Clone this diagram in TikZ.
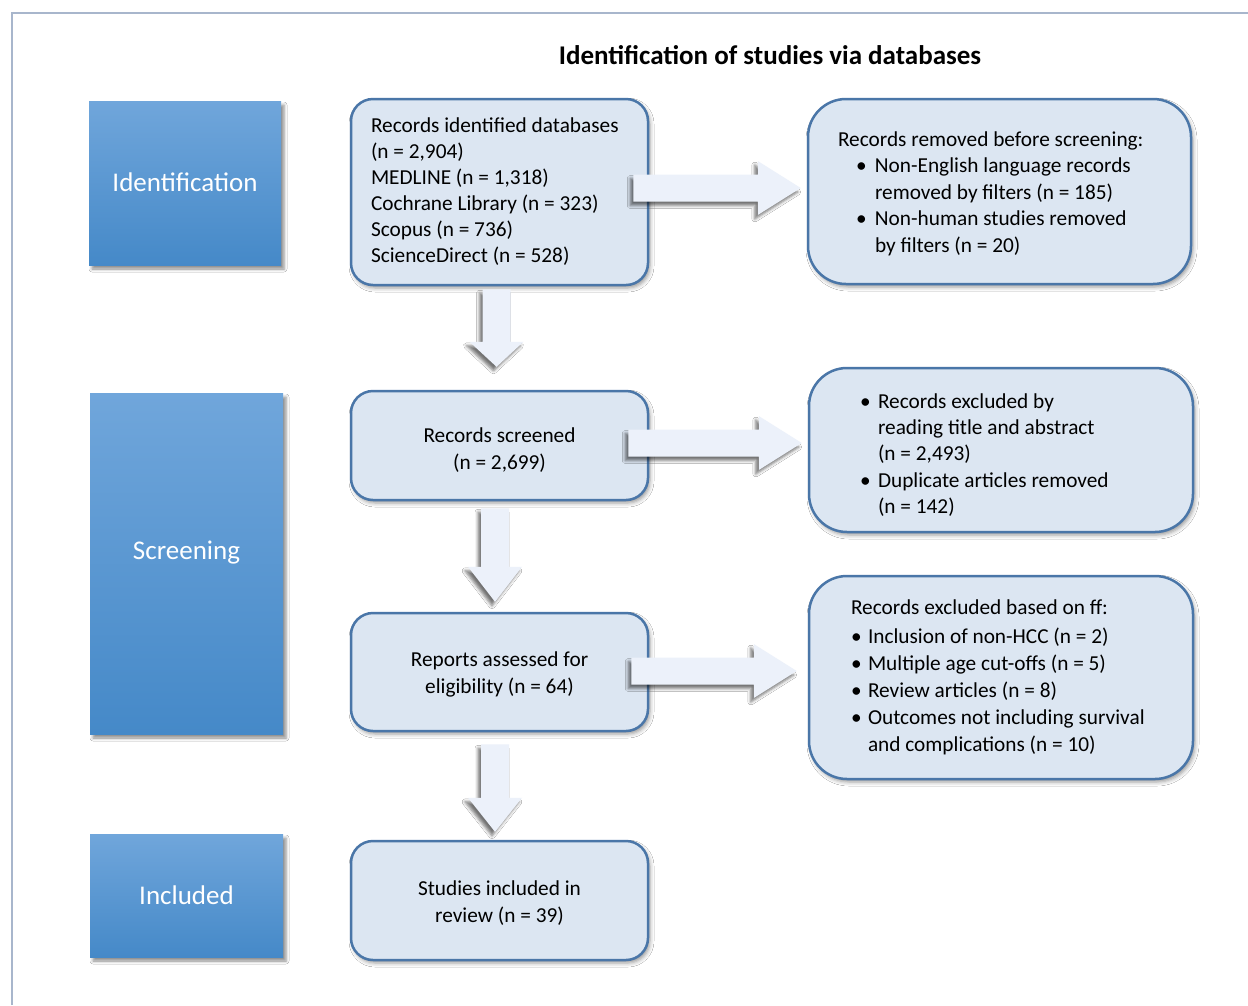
\documentclass[tikz,border=0pt]{standalone}
\usepackage{fontspec}
\setmainfont{Carlito}
\usetikzlibrary{calc,shadows,shadows.blur}
\definecolor{boxfill}{RGB}{220,230,242}
\definecolor{boxline}{RGB}{74,118,168}
\definecolor{arrfill}{RGB}{236,241,250}
\definecolor{stagetop}{RGB}{112,166,219}
\definecolor{stagebot}{RGB}{69,137,200}
\definecolor{framecol}{RGB}{168,182,204}
\newcommand\RArrow[2]{%
  \path[barrow] let \p1=(#1), \p2=(#2) in
    (\x1,\y1+13.5pt) -- (\x2-43pt,\y1+13.5pt) -- (\x2-43pt,\y1+27pt) -- (\x2,\y1)
    -- (\x2-43pt,\y1-27pt) -- (\x2-43pt,\y1-13.5pt) -- (\x1,\y1-13.5pt) -- cycle;}
\newcommand\DArrow[3]{%
  \path[barrow] let \p1=(#1), \p2=(#2) in
    (\x1-14pt,\y1) -- (\x1-14pt,\y2+#3) -- (\x1-27pt,\y2+#3) -- (\x1,\y2)
    -- (\x1+27pt,\y2+#3) -- (\x1+14pt,\y2+#3) -- (\x1+14pt,\y1) -- cycle;}
\newcommand\bul[1]{\makebox[#1][l]{\textbullet}}
\begin{document}
\begin{tikzpicture}[x=1pt,y=-1pt,
  stage/.style={rectangle, top color=stagetop, bottom color=stagebot, inner sep=0pt,
    blur shadow={shadow xshift=3pt, shadow yshift=-4pt, shadow blur radius=3pt, shadow opacity=45}},
  stagetext/.style={text=white, font=\fontsize{27}{32}\selectfont, inner sep=0pt},
  flow/.style={rectangle, rounded corners=22pt, draw=boxline, line width=2.5pt, fill=boxfill,
    inner sep=0pt,
    blur shadow={shadow xshift=2pt, shadow yshift=-3pt, shadow blur radius=4pt, shadow opacity=40}},
  side/.style={flow, rounded corners=38pt},
  boxtext/.style={inner sep=0pt, font=\fontsize{21.3}{26}\selectfont},
  barrow/.style={fill=arrfill,
    blur shadow={shadow xshift=-3pt, shadow yshift=-4pt, shadow blur radius=3pt, shadow opacity=55}}
]
\useasboundingbox (0,0) rectangle (1248,1005);
\fill[white] (0,0) rectangle (1248,1005);
\draw[framecol, line width=2pt] (12,1005) -- (12,13) -- (1248,13);

\node[font=\fontsize{27}{32}\selectfont\bfseries] (title) at (770,55) {Identification of studies via databases};

% stage boxes
\node[stage, minimum width=192pt, minimum height=164pt] (id) at (185,183) {};
\node[stage, minimum width=193pt, minimum height=341pt] (scr) at (186.5,563.5) {};
\node[stage, minimum width=193pt, minimum height=123pt] (inc) at (186.5,895.5) {};
\node[stagetext] (idt) at ($(id.center)+(0,-1)$) {Identification};
\node[stagetext] (scrt) at ($(scr.center)+(0,-11)$) {Screening};
\node[stagetext] (inct) at (inc.center) {Included};

% flow boxes
\node[flow, minimum width=297pt, minimum height=186pt] (a1) at (499.5,192) {};
\node[flow, minimum width=297pt, minimum height=109pt] (a2) at (499.5,445.5) {};
\node[flow, minimum width=297pt, minimum height=118pt] (a3) at (499.5,672) {};
\node[flow, minimum width=297pt, minimum height=119pt] (a4) at (499.5,900.5) {};
\node[side, minimum width=383pt, minimum height=185pt] (r1) at (999.5,191.5) {};
\node[side, minimum width=384pt, minimum height=164pt] (r2) at (1001,450) {};
\node[side, minimum width=384pt, minimum height=203pt] (r3) at (1001,677.5) {};

\node[boxtext, text width=257pt, align=flush left] (a1t) at (a1.center)
  {Records identified databases\\(n = 2,904)\\MEDLINE (n = 1,318)\\Cochrane Library (n = 323)\\Scopus (n = 736)\\ScienceDirect (n = 528)};
\node[boxtext, align=center, font=\fontsize{21.3}{27}\selectfont] (a2t) at ($(a2.center)+(0,4.5)$)
  {Records screened\\(n = 2,699)};
\node[boxtext, align=center, font=\fontsize{21.3}{27}\selectfont] (a3t) at ($(a3.center)+(0,2)$)
  {Reports assessed for\\eligibility (n = 64)};
\node[boxtext, align=center, font=\fontsize{21.3}{27}\selectfont] (a4t) at ($(a4.center)+(0,2.5)$)
  {Studies included in\\review (n = 39)};

\node[boxtext, text width=323pt, align=flush left, font=\fontsize{21.3}{26.5}\selectfont] (r1t)
  at ($(r1.center)+(0,2)$)
  {Records removed before screening:\\
   \hspace*{18pt}\bul{19pt}Non-English language records\\
   \hspace*{37pt}removed by filters (n = 185)\\
   \hspace*{18pt}\bul{19pt}Non-human studies removed\\
   \hspace*{37pt}by filters (n = 20)};
\node[boxtext, text width=282pt, align=flush left, font=\fontsize{21.3}{26.3}\selectfont] (r2t)
  at ($(r2.center)+(0,5)$)
  {\bul{18pt}Records excluded by\\
   \hspace*{18pt}reading title and abstract\\
   \hspace*{18pt}(n = 2,493)\\
   \bul{18pt}Duplicate articles removed\\
   \hspace*{18pt}(n = 142)};
\node[boxtext, text width=300pt, align=flush left, font=\fontsize{21.3}{27}\selectfont] (r3t)
  at (r3.center)
  {Records excluded based on ff:\\[2pt]
   \bul{17pt}Inclusion of non-HCC (n = 2)\\
   \bul{17pt}Multiple age cut-offs (n = 5)\\
   \bul{17pt}Review articles (n = 8)\\
   \bul{17pt}Outcomes not including survival\\
   \hspace*{17pt}and complications (n = 10)};

% block arrows
\coordinate (s1) at ($(a1.east)+(-16,-4)$);
\coordinate (t1) at ($(r1.west)+(-6,-4)$);
\coordinate (s2) at ($(a2.east)+(-21,-2.5)$);
\coordinate (t2) at ($(r2.west)+(-6,-7)$);
\coordinate (s3) at ($(a3.east)+(-18,-1)$);
\coordinate (t3) at ($(r3.west)+(-11,-6)$);
\RArrow{s1}{t1}
\RArrow{s2}{t2}
\RArrow{s3}{t3}

\coordinate (d1s) at ($(a1.south)+(-3,3)$);
\coordinate (d1t) at ($(a2.north)+(-3,-23)$);
\coordinate (d2s) at ($(a2.south)+(-4.5,7)$);
\coordinate (d2t) at ($(a3.north)+(-4.5,-10)$);
\coordinate (d3s) at ($(a3.south)+(-4.5,12)$);
\coordinate (d3t) at ($(a4.north)+(-4.5,-8)$);
\DArrow{d1s}{d1t}{25pt}
\DArrow{d2s}{d2t}{35pt}
\DArrow{d3s}{d3t}{34pt}
\end{tikzpicture}
\end{document}
